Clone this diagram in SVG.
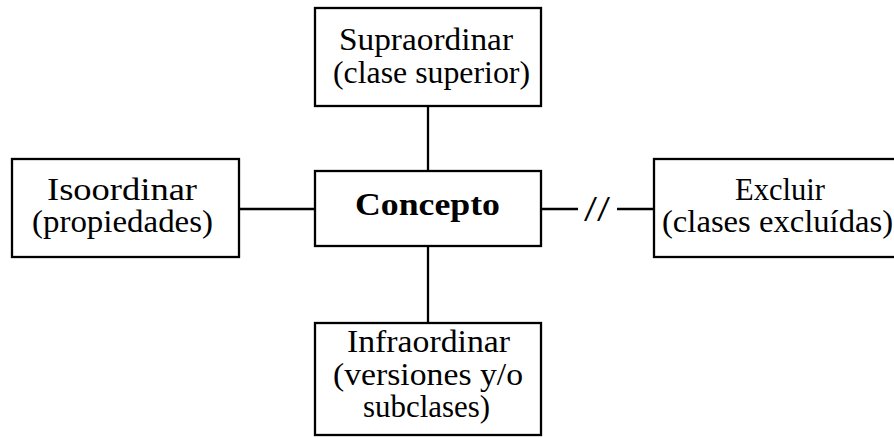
<svg xmlns="http://www.w3.org/2000/svg" width="894" height="438" viewBox="0 0 894 438">
<style>
rect{fill:#fff;stroke:#000;stroke-width:2.3}
line{stroke:#000;stroke-width:2.3}
text{font-family:"Liberation Serif","Times New Roman",serif;font-size:32px;fill:#000;text-anchor:middle}
.b{font-weight:bold}
</style>
<rect x="0" y="0" width="894" height="438" style="stroke:none"/>
<g id="connectors">
<line x1="428" y1="106" x2="428" y2="171"/>
<line x1="428" y1="246" x2="428" y2="323"/>
<line x1="239" y1="209" x2="315" y2="209"/>
<line x1="541" y1="209" x2="578" y2="209"/>
<line x1="617" y1="209" x2="654" y2="209"/>
<text x="597" y="221" textLength="26" lengthAdjust="spacingAndGlyphs" style="font-size:36px">//</text>
</g>
<g id="supraordinar">
<rect x="315" y="8" width="226" height="98"/>
<text x="426" y="50" textLength="174" lengthAdjust="spacingAndGlyphs">Supraordinar</text>
<text x="431.5" y="83" textLength="197" lengthAdjust="spacingAndGlyphs">(clase superior)</text>
</g>
<g id="concepto">
<rect x="315" y="171" width="226" height="75"/>
<text class="b" x="427.5" y="215" textLength="145" lengthAdjust="spacingAndGlyphs">Concepto</text>
</g>
<g id="isoordinar">
<rect x="12" y="159" width="227" height="98"/>
<text x="122" y="200" textLength="150" lengthAdjust="spacingAndGlyphs">Isoordinar</text>
<text x="122.5" y="232" textLength="181" lengthAdjust="spacingAndGlyphs">(propiedades)</text>
</g>
<g id="excluir">
<rect x="654" y="159" width="250" height="98"/>
<text x="780" y="200" textLength="90" lengthAdjust="spacingAndGlyphs">Excluir</text>
<text x="777.5" y="232" textLength="231" lengthAdjust="spacingAndGlyphs">(clases excluídas)</text>
</g>
<g id="infraordinar">
<rect x="315" y="323" width="226" height="112"/>
<text x="428.5" y="352" textLength="163" lengthAdjust="spacingAndGlyphs">Infraordinar</text>
<text x="428" y="385" textLength="190" lengthAdjust="spacingAndGlyphs">(versiones y/o</text>
<text x="426.5" y="417" textLength="127" lengthAdjust="spacingAndGlyphs">subclases)</text>
</g>
</svg>
